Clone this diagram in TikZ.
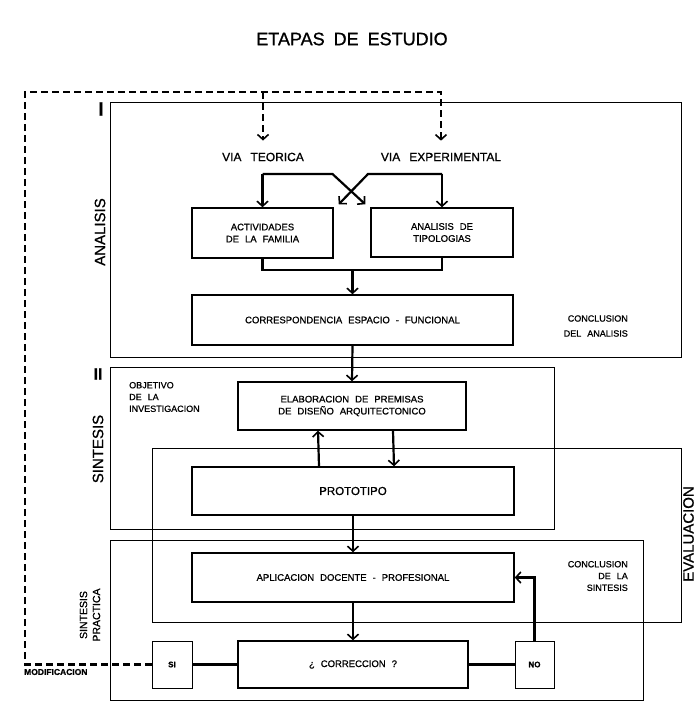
\documentclass[tikz,border=0pt]{standalone}
\usepackage{fontspec}
\setmainfont{Liberation Sans}[FakeBold=0.9]
\usetikzlibrary{arrows.meta}

\newcommand\widesp[1]{\spaceskip=#1 plus 1pt\relax}
\newcommand\boxfont{\fontsize{9.5}{12}\selectfont\widesp{6pt}}
\newcommand\notefont{\fontsize{9}{11.8}\selectfont\widesp{6pt}}
\tikzset{
  box/.style={draw,line width=1.5pt,align=center,font=\boxfont,inner sep=2pt},
  frame/.style={line width=0.9pt},
  link/.style={line width=2.2pt},
  flow/.style={link,-{Straight Barb[length=5pt,width=11pt,line width=1.6pt]}},
  dashline/.style={line width=2.4pt,dash pattern=on 7pt off 4pt,
    -{Straight Barb[length=5pt,width=11pt,line width=1.6pt]},shorten >=10pt},
  side/.style={rotate=90,font=\fontsize{15}{18}\selectfont},
  note/.style={font=\notefont,inner sep=0pt},
  via/.style={font=\fontsize{12}{14}\selectfont\widesp{9pt},inner sep=2pt}
}

\begin{document}
\begin{tikzpicture}[x=1pt,y=-1pt]
  \useasboundingbox (0,0) rectangle (697,702);
  \draw[frame] (110,102) rectangle (681,357);
  \draw[frame] (110,367) rectangle (554,529);
  \draw[frame] (152,448) rectangle (681,622);
  \draw[frame] (110,540) rectangle (643,700);

  \node[font=\fontsize{18}{20}\selectfont\widesp{9pt}] (ttl) at (352,39) {ETAPAS DE ESTUDIO};
  \node[font=\bfseries\fontsize{19}{20}\selectfont,inner sep=0pt] (num1) at (101,109) {I};
  \node[font=\bfseries\fontsize{16}{18}\selectfont,inner sep=0pt] (num2) at (98,374) {II};
  \node[side] (lanal) at (100,232) {ANALISIS};
  \node[side] (lsint) at (98,449) {SINTESIS};
  \node[side,inner sep=1pt] (leval) at (688.5,534) {EVALUACION};
  \node[side,font=\fontsize{10.5}{13}\selectfont,align=center] (lprac) at (90,615) {SINTESIS\\PRACTICA};

  \node[via] (vt) at (263,157) {VIA TEORICA};
  \node[via] (ve) at (441,157) {VIA EXPERIMENTAL};

  \node[box,minimum width=141pt,minimum height=50pt] (act) at (262.5,233) {ACTIVIDADES\\DE LA FAMILIA};
  \node[box,minimum width=142pt,minimum height=49pt] (ana) at (442,232.5) {ANALISIS DE\\TIPOLOGIAS};
  \node[box,minimum width=321pt,minimum height=50pt] (corr) at (352.5,320) {CORRESPONDENCIA ESPACIO - FUNCIONAL};
  \node[box,minimum width=228pt,minimum height=48pt] (elab) at (352,406) {ELABORACION DE PREMISAS\\DE DISEÑO ARQUITECTONICO};
  \node[box,minimum width=322pt,minimum height=48pt,font=\fontsize{11.5}{13}\selectfont] (proto) at (353,491) {PROTOTIPO};
  \node[box,minimum width=322pt,minimum height=49pt] (apl) at (353,577.5) {APLICACION DOCENTE - PROFESIONAL};
  \node[box,minimum width=230pt,minimum height=47pt] (corrq) at (353,664.5) {¿ CORRECCION ?};
  \node[box,line width=1pt,minimum width=40pt,minimum height=47pt,font=\bfseries\fontsize{8}{10}\selectfont] (si) at (172,664.5) {SI};
  \node[box,line width=1pt,minimum width=39pt,minimum height=47pt,font=\bfseries\fontsize{8}{10}\selectfont] (no) at (534.5,664.5) {NO};

  \node[note,align=right,anchor=east,font=\fontsize{9}{15}\selectfont\widesp{6pt}] (cana) at (628,326) {CONCLUSION\\DEL ANALISIS};
  \node[note,align=left,anchor=west] (obj) at (129,397) {OBJETIVO\\DE LA\\INVESTIGACION};
  \node[note,align=right,anchor=east] (csin) at (628,576) {CONCLUSION\\DE LA\\SINTESIS};
  \node[note,anchor=west,font=\bfseries\fontsize{8.5}{10}\selectfont] (mod) at (24,672) {MODIFICACION};

  \coordinate (tl) at (25,92);
  \draw[dashline] (si.west) -| (tl) -| (ve.north);
  \draw[dashline] (vt |- tl) -- (vt.north);

  \coordinate (vtb) at (262.5,174);
  \coordinate (veb) at (442,174);
  \draw[flow] (vtb) -- (act.north);
  \draw[flow] (veb) -- (ana.north);
  \draw[flow] (vtb) -- ++(70,0) -- ([shift={(-5,-3)}]ana.north west);
  \draw[flow] (veb) -- ++(-74,0) -- ([shift={(5,-3)}]act.north east);
  \coordinate (join) at (352.5,270);
  \draw[link] (act.south) |- (join) -| (ana.south);
  \draw[flow] (join) -- (corr.north);
  \draw[flow] (corr.south) -- (elab.north);
  \draw[flow] ([xshift=41pt]elab.south) -- ([xshift=41pt]proto.north);
  \draw[flow] ([xshift=-34pt]proto.north) -- ([xshift=-34pt]elab.south);
  \draw[flow] (proto.south) -- (apl.north);
  \draw[flow] (apl.south) -- (corrq.north);
  \draw[link] (si) -- (corrq);
  \draw[link] (corrq) -- (no);
  \draw[flow] (no.north) |- (apl.east);
\end{tikzpicture}
\end{document}
